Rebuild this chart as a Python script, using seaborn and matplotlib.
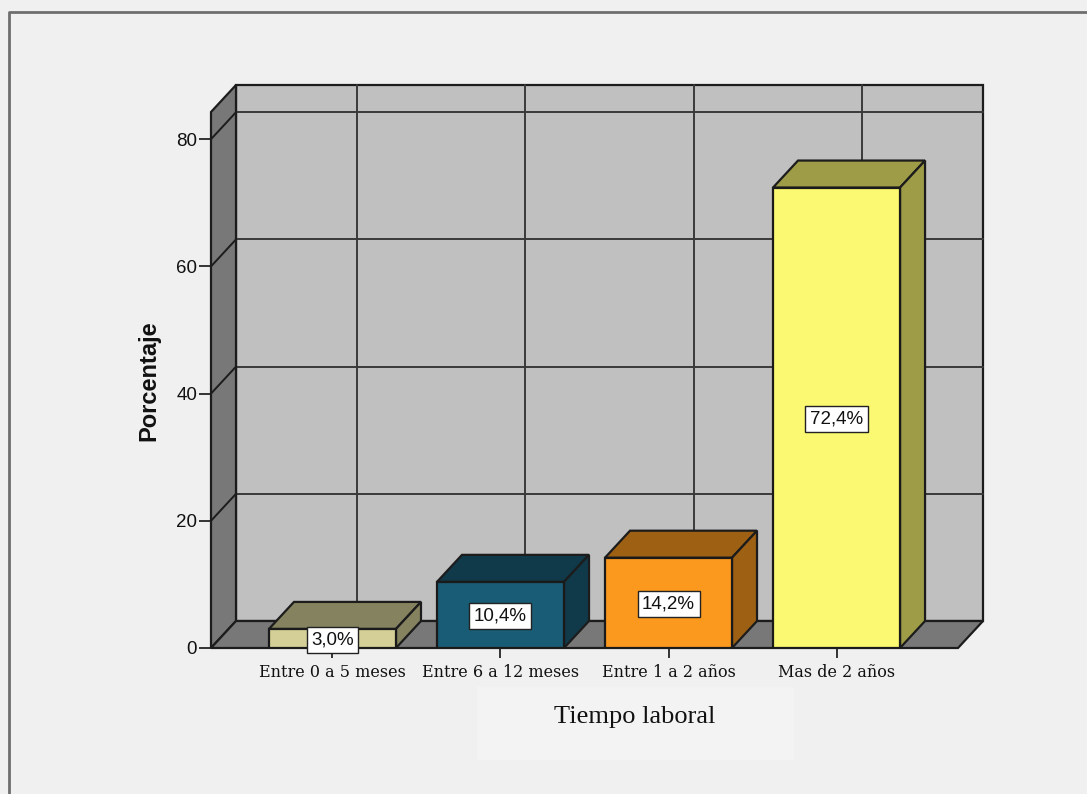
import matplotlib
matplotlib.use("Agg")
import matplotlib.pyplot as plt
from matplotlib.patches import Polygon, Rectangle
from matplotlib.lines import Line2D
from matplotlib.colors import to_rgb
import seaborn as sns
import pandas as pd

categories = ["Entre 0 a 5 meses", "Entre 6 a 12 meses", "Entre 1 a 2 años", "Mas de 2 años"]
percentages = [3.0, 10.4, 14.2, 72.4]
labels = ["3,0%", "10,4%", "14,2%", "72,4%"]
bar_colors = ["#d3cf97", "#195c75", "#fb981e", "#fbf871"]
y_ticks = [0, 20, 40, 60, 80]

W, H = 1087, 794
BG = "#f0f0f0"
WALL = "#c0c0c0"
FLOOR = "#787878"
LINE = "#1c1c1c"
DX, DY = 25 / 168, 27 / 6.36
XMIN, XMAX, YMAX = -0.723, 3.723, 84.28

sns.set_theme(style="white")
plt.rcParams["font.family"] = ["Liberation Sans", "DejaVu Sans"]
fig = plt.figure(figsize=(W / 100, H / 100), dpi=100, facecolor=BG)
ax = fig.add_axes([211 / W, (H - 648) / H, 747 / W, 536 / H])
ax.patch.set_visible(False)

df = pd.DataFrame({"cat": categories, "pct": percentages})
sns.barplot(data=df, x="cat", y="pct", hue="cat", palette=bar_colors, dodge=False,
            width=0.756, saturation=1, edgecolor="#1a1a1a", linewidth=1.6,
            legend=False, ax=ax, zorder=6)
ax.set_xlim(XMIN, XMAX)
ax.set_ylim(0, YMAX)


def poly(points, color, z, lw=1.6, ec=LINE):
    ax.add_patch(Polygon(points, closed=True, facecolor=color, edgecolor=ec, linewidth=lw,
                         clip_on=False, zorder=z, joinstyle="miter"))


# chamber: back wall, left wall, floor
poly([(XMIN + DX, DY), (XMAX + DX, DY), (XMAX + DX, YMAX + DY), (XMIN + DX, YMAX + DY)], WALL, 1)
poly([(XMIN, 0), (XMIN + DX, DY), (XMIN + DX, YMAX + DY), (XMIN, YMAX)], FLOOR, 1.1)
poly([(XMIN, 0), (XMAX, 0), (XMAX + DX, DY), (XMIN + DX, DY)], FLOOR, 1.2)

grid = dict(color="#3a3a3a", linewidth=1.4, clip_on=False, zorder=1.05)
for t in y_ticks[1:]:
    ax.add_line(Line2D([XMIN + DX, XMAX + DX], [t + DY, t + DY], **grid))
    ax.add_line(Line2D([XMIN, XMIN + DX], [t, t + DY], color=LINE, linewidth=1.4,
                       clip_on=False, zorder=1.15))
for i in range(len(categories)):
    ax.add_line(Line2D([i + DX, i + DX], [DY, YMAX + DY], **grid))

# 3D faces and labels for every bar the library drew
for i, bar in enumerate(ax.patches[:len(categories)]):
    x0, w, h = bar.get_x(), bar.get_width(), bar.get_height()
    dark = tuple(c * 0.63 for c in to_rgb(bar.get_facecolor()))
    z = 4 + i * 0.1
    poly([(x0, h), (x0 + w, h), (x0 + w + DX, h + DY), (x0 + DX, h + DY)], dark, z)
    poly([(x0 + w, 0), (x0 + w + DX, DY), (x0 + w + DX, h + DY), (x0 + w, h)], dark, z)
    bar.set_zorder(z + 0.05)
    ax.text(x0 + w / 2, h / 2 - 0.2, labels[i], ha="center", va="center",
            fontsize=13.5, color="#111111", zorder=8,
            bbox=dict(boxstyle="square,pad=0.24", facecolor="white", edgecolor="#222222", linewidth=1))

ax.set_yticks(y_ticks)
ax.set_xticks(range(len(categories)))
ax.set_xticklabels(categories, fontfamily="DejaVu Serif", fontsize=11.5, color="#111111")
ax.tick_params(axis="x", length=7.2, width=1.4, color="#333333", pad=4.5, bottom=True)
ax.tick_params(axis="y", length=9, width=1.4, color="#333333", pad=1, labelsize=13.5, labelcolor="#111111", left=True)
for s in ax.spines.values():
    s.set_visible(False)
ax.set_xlabel("")
ax.set_ylabel("")

fig.text(149 / W, 1 - 381 / H, "Porcentaje", rotation=90, ha="center", va="center",
         fontsize=17, fontweight="bold", color="#111111")

# lighter panel behind the axis title and the picture frame
fig.add_artist(Rectangle((477 / W, 1 - 760 / H), 317 / W, 73 / H, transform=fig.transFigure,
                         facecolor="#f3f3f3", edgecolor="none", zorder=0))
fig.text(635 / W, 1 - 717 / H, "Tiempo laboral", ha="center", va="center",
         fontfamily="Liberation Serif", fontsize=19, color="#111111")
fig.add_artist(Line2D([9 / W, 9 / W, 1], [0, 1 - 12 / H, 1 - 12 / H], transform=fig.transFigure,
                      color="#6e6e6e", linewidth=2))

fig.savefig("out.png", dpi=100, facecolor=BG)
